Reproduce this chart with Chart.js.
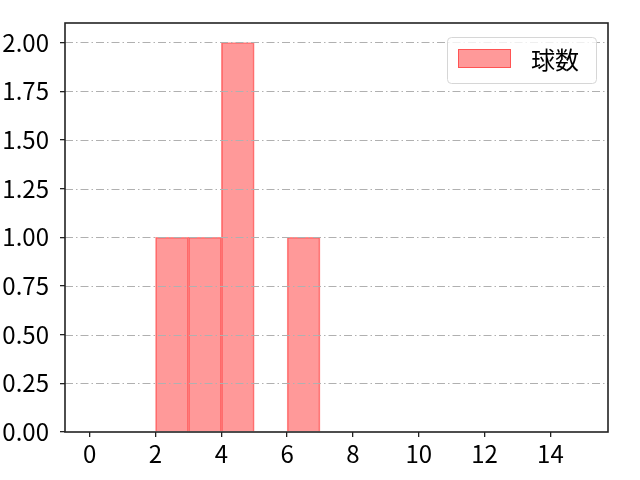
<!DOCTYPE html>
<html lang="ja">
<head>
    <meta charset="UTF-8">
    <title>球数</title>
    <script src="https://cdn.jsdelivr.net/npm/chart.js"></script>
    <style>
        body { margin: 0; padding: 0; background: #fff; }
        canvas { display: block; }
    </style>
</head>
<body>
    <canvas id="chart" width="640" height="480"></canvas>

    <script>
        // histogram: bins of width 1 starting at 0
        const binStarts = [0, 1, 2, 3, 4, 5, 6, 7, 8, 9, 10, 11, 12, 13, 14];
        const counts    = [0, 0, 1, 1, 2, 0, 1, 0, 0, 0, 0, 0, 0, 0, 0];
        const xTicks = [0, 2, 4, 6, 8, 10, 12, 14];
        const yTicks = [0, 0.25, 0.5, 0.75, 1.0, 1.25, 1.5, 1.75, 2.0];
        const seriesLabel = '球数';

        const FONT = '"Noto Sans CJK JP", "Noto Sans", sans-serif';
        const FILL = 'rgba(255, 0, 0, 0.4)';
        const EDGE = 'rgba(255, 0, 0, 0.45)';

        // grid lines drawn above the bars, plus the top/right spines and legend
        const overlay = {
            id: 'overlay',
            afterDatasetsDraw(chart) {
                const { ctx, chartArea: a, scales } = chart;
                ctx.save();
                ctx.strokeStyle = '#b0b0b0';
                ctx.lineWidth = 1;
                ctx.setLineDash([8, 3, 1.5, 3]);
                yTicks.forEach(v => {
                    if (v === 0) return;
                    const y = Math.round(scales.y.getPixelForValue(v)) + 0.5;
                    ctx.beginPath();
                    ctx.moveTo(a.left, y);
                    ctx.lineTo(a.right, y);
                    ctx.stroke();
                });
                ctx.restore();
            },
            afterDraw(chart) {
                const { ctx, chartArea: a } = chart;
                ctx.save();
                // box
                ctx.strokeStyle = '#222';
                ctx.lineWidth = 1.6;
                ctx.strokeRect(a.left, a.top, a.right - a.left, a.bottom - a.top);

                // legend
                const lx = 447, ly = 37, lw = 149, lh = 46;
                ctx.beginPath();
                ctx.roundRect(lx + 0.5, ly + 0.5, lw, lh, 4);
                ctx.fillStyle = 'rgba(255,255,255,0.8)';
                ctx.fill();
                ctx.strokeStyle = '#d6d6d6';
                ctx.lineWidth = 1;
                ctx.stroke();

                ctx.fillStyle = '#fff';
                ctx.fillRect(458, 49, 53, 19);
                ctx.fillStyle = FILL;
                ctx.fillRect(458, 49, 53, 19);
                ctx.strokeStyle = EDGE;
                ctx.strokeRect(458.5, 49.5, 52, 18);

                ctx.fillStyle = '#000';
                ctx.font = '24px ' + FONT;
                ctx.textBaseline = 'middle';
                ctx.textAlign = 'left';
                ctx.fillText(seriesLabel, 531, 60);
                ctx.restore();
            }
        };

        const points = binStarts.map((s, i) => ({ x: s + 0.5, y: counts[i] }));

        new Chart(document.getElementById('chart'), {
            type: 'bar',
            data: {
                datasets: [{
                    label: seriesLabel,
                    data: points,
                    backgroundColor: FILL,
                    borderColor: EDGE,
                    borderWidth: 1,
                    borderSkipped: 'start',
                    barPercentage: 1.0,
                    categoryPercentage: 1.0
                }]
            },
            options: {
                responsive: false,
                animation: false,
                layout: { padding: { left: 0, top: 23, right: 32, bottom: 0 } },
                plugins: {
                    legend: { display: false },
                    tooltip: { enabled: false }
                },
                scales: {
                    x: {
                        type: 'linear',
                        min: -0.75,
                        max: 15.75,
                        offset: false,
                        afterBuildTicks: s => { s.ticks = xTicks.map(v => ({ value: v })); },
                        afterFit: s => { s.height = 48; s.paddingLeft = 0; s.paddingRight = 0; },
                        grid: { offset: false, drawOnChartArea: false, drawTicks: true, tickLength: 5, color: '#222', lineWidth: 1.3 },
                        border: { display: false },
                        ticks: {
                            color: '#000',
                            padding: 2,
                            maxRotation: 0,
                            font: { family: FONT, size: 24 }
                        }
                    },
                    y: {
                        min: 0,
                        max: 2.1,
                        afterBuildTicks: s => { s.ticks = yTicks.map(v => ({ value: v })); },
                        afterFit: s => { s.width = 65; s.paddingTop = 0; s.paddingBottom = 0; },
                        grid: { drawOnChartArea: false, drawTicks: true, tickLength: 5, color: '#222', lineWidth: 1.3 },
                        border: { display: false },
                        ticks: {
                            color: '#000',
                            padding: 11,
                            font: { family: FONT, size: 24 },
                            callback: v => Number(v).toFixed(2)
                        }
                    }
                }
            },
            plugins: [overlay]
        });
    </script>
</body>
</html>
